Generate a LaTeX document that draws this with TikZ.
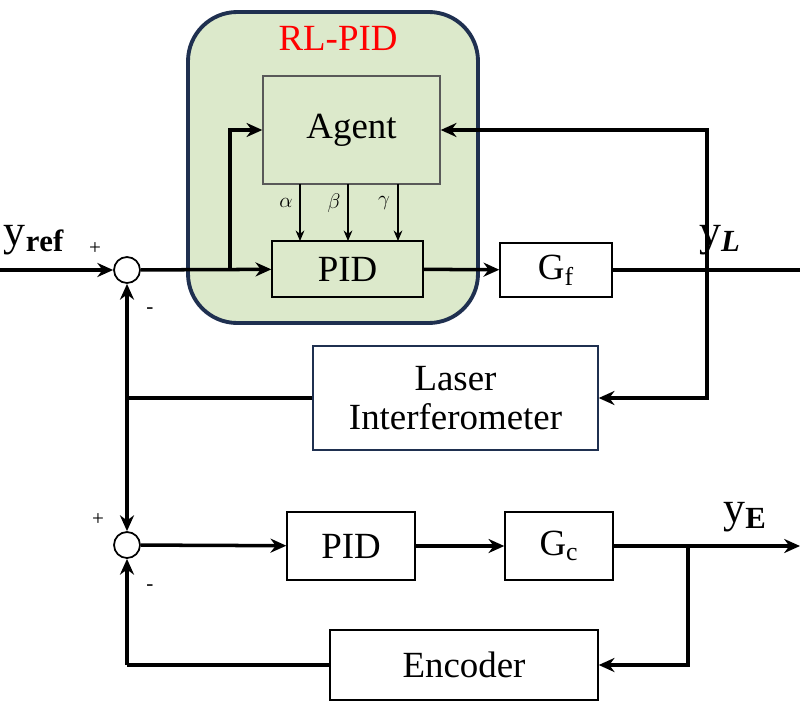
\documentclass[tikz,border=0pt]{standalone}
\usepackage{fontspec}
\setmainfont{Liberation Serif}
\usetikzlibrary{arrows.meta}

\definecolor{rlgreen}{HTML}{DCE9CB}
\definecolor{navy}{HTML}{1F3050}

\tikzset{
    blk/.style={draw,line width=0.8pt,fill=white,inner sep=0pt,font=\fontsize{21}{24}\selectfont},
    sumc/.style={draw,circle,line width=1pt,fill=white,minimum size=0.52cm,inner sep=0pt},
    sig/.style={line width=2pt,-{Stealth[length=9pt,width=8pt]}},
    wire/.style={line width=2pt},
    par/.style={line width=0.6pt,-{Stealth[length=6pt,width=5pt]}}
}

\begin{document}
\begin{tikzpicture}[x=0.02cm,y=-0.02cm]
        \useasboundingbox (0,0) rectangle (800,706);
        % RL-PID block
        \draw[navy,line width=2.2pt,fill=rlgreen,rounded corners=28] (188,12) rectangle (478,323);
        \node[red,font=\fontsize{21}{24}\selectfont] (rl) at (338,38) {RL-PID};
        \node[blk,fill=rlgreen,draw=gray!70!black,minimum width=3.54cm,minimum height=2.16cm] (agent) at (351.5,130) {Agent};
        \node[blk,fill=rlgreen,minimum width=3.02cm,minimum height=1.12cm] (pid) at (347.5,269) {PID};
        % parameters
        \foreach \x/\p in {300/\alpha,348/\beta,398/\gamma} {
            \coordinate (t) at (\x,184);
            \coordinate (b) at (\x,241);
            \draw[par] (t) -- (b);
            \node[font=\large] at (\x-14,203) {$\p$};
        }
        % upper loop
        \node[sumc] (s1) at (127,270) {};
        \node[blk,minimum width=2.24cm,minimum height=1.08cm] (gf) at (556,270) {G$_\mathrm{f}$};
        \node[blk,draw=navy,minimum width=5.7cm,minimum height=2.08cm,align=center] (laser) at (455.5,398) {Laser\\[-2pt]Interferometer};
        \coordinate (in) at (0,270);
        \coordinate (out1) at (800,270);
        \coordinate (br1) at (230,270);
        \coordinate (fb1) at (707,270);
        \coordinate (fb2) at (127,398);
        \draw[sig] (in) -- (s1);
        \draw[sig] (s1) -- (pid);
        \draw[sig] (br1) |- (agent.west);
        \draw[sig] (pid) -- (gf);
        \draw[wire] (gf) -- (out1);
        \draw[sig] (fb1) |- (agent.east);
        \draw[sig] (fb1) |- (laser.east);
        \draw[wire] (laser.west) -- (fb2);
        \draw[sig] (fb2) -- (s1);
        \node[font=\fontsize{25}{27}\selectfont] (yref) at (34,240) {y$_\mathbf{ref}$};
        \node[font=\fontsize{25}{27}\selectfont] (yl) at (720,240) {y\textsubscript{\textbf{\textit{L}}}};
        \node[font=\large] at (95,249) {+};
        \node[font=\large] at (150,311) {-};
        % lower loop
        \node[sumc] (s2) at (127,545) {};
        \node[blk,minimum width=2.56cm,minimum height=1.36cm] (pid2) at (351,546) {PID};
        \node[blk,minimum width=2.16cm,minimum height=1.36cm] (gc) at (559,546) {G$_\mathrm{c}$};
        \node[blk,minimum width=5.36cm,minimum height=1.4cm] (enc) at (464,665) {Encoder};
        \coordinate (out2) at (800,546);
        \coordinate (br2) at (688,546);
        \coordinate (fb3) at (127,665);
        \draw[sig] (fb2) -- (s2);
        \draw[sig] (s2) -- (pid2);
        \draw[sig] (pid2) -- (gc);
        \draw[sig] (gc) -- (out2);
        \draw[sig] (br2) |- (enc.east);
        \draw[wire] (enc.west) -- (fb3);
        \draw[sig] (fb3) -- (s2);
        \node[font=\fontsize{25}{27}\selectfont] (ye) at (745,517) {y$_\mathbf{E}$};
        \node[font=\large] at (98,520) {+};
        \node[font=\large] at (150,588) {-};
\end{tikzpicture}
\end{document}
